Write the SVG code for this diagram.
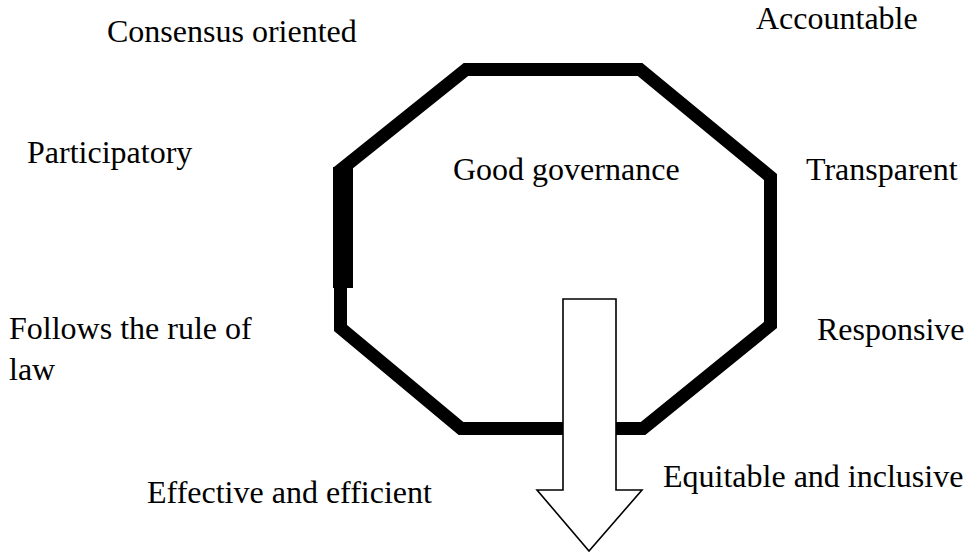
<svg xmlns="http://www.w3.org/2000/svg" width="971" height="556" viewBox="0 0 971 556">
  <style>
    .lbl { font-family: "Liberation Serif", "Times New Roman", serif; font-size: 32px; fill: #000; }
    .frame { fill: #fff; stroke: #000; stroke-width: 13; stroke-linejoin: miter; }
    .arrow { fill: #fff; stroke: #000; stroke-width: 1.6; stroke-linejoin: miter; }
  </style>
  <rect width="971" height="556" fill="#fff"/>

  <!-- central octagon -->
  <g id="good-governance">
    <polygon class="frame" points="466,69.5 640,69.5 770.5,177 770.5,325 643,428.5 461,428.5 340.5,328 340.5,170"/>
    <rect x="333" y="167" width="20" height="121" fill="#000"/>
    <text class="lbl" x="453" y="180">Good governance</text>
  </g>

  <!-- surrounding characteristics -->
  <g id="consensus-oriented"><text class="lbl" x="107" y="42">Consensus oriented</text></g>
  <g id="accountable"><text class="lbl" x="756" y="29">Accountable</text></g>
  <g id="participatory"><text class="lbl" x="27" y="163">Participatory</text></g>
  <g id="transparent"><text class="lbl" x="806" y="180">Transparent</text></g>
  <g id="rule-of-law">
    <text class="lbl" x="9" y="339">Follows the rule of</text>
    <text class="lbl" x="9" y="380">law</text>
  </g>
  <g id="responsive"><text class="lbl" x="817" y="340">Responsive</text></g>
  <g id="effective-efficient"><text class="lbl" x="147" y="503">Effective and efficient</text></g>
  <g id="equitable-inclusive"><text class="lbl" x="663" y="487">Equitable and inclusive</text></g>

  <!-- downward block arrow -->
  <g id="connectors">
    <polygon class="arrow" points="563,299 616,299 616,490 642,490 589,551 537,490 563,490"/>
  </g>
</svg>
